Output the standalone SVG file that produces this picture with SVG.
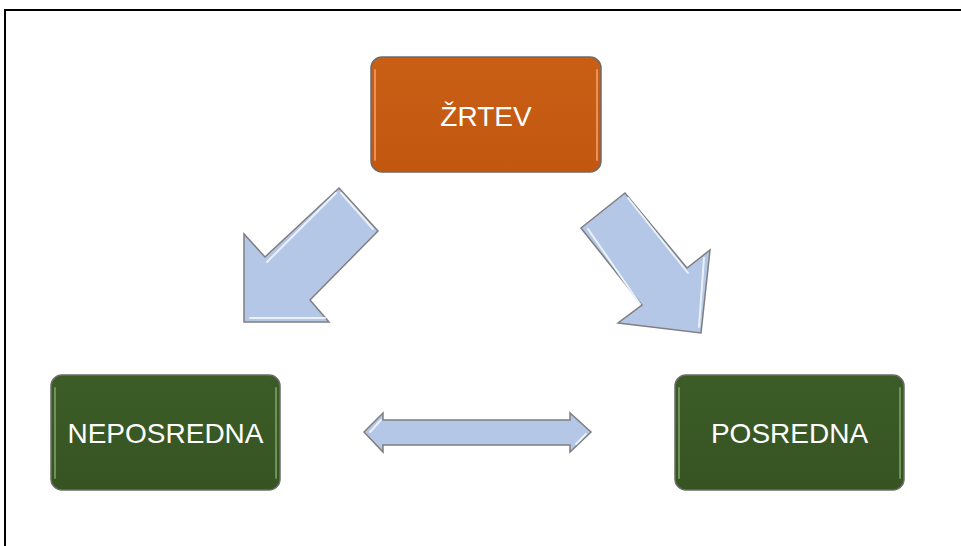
<svg xmlns="http://www.w3.org/2000/svg" width="961" height="546" viewBox="0 0 961 546">
<defs>
<linearGradient id="og" x1="0" y1="0" x2="0" y2="1">
<stop offset="0" stop-color="#C95E15"/><stop offset="1" stop-color="#C25810"/>
</linearGradient>
<linearGradient id="gg" x1="0" y1="0" x2="0" y2="1">
<stop offset="0" stop-color="#3B5C27"/><stop offset="1" stop-color="#365422"/>
</linearGradient>
<style>
.box{stroke:#6b6b6b;stroke-width:1.5}
.hl{fill:none;stroke-width:2;stroke-linecap:round}
.lbl{font-family:"Liberation Sans","Open Sans",Arial,sans-serif;font-size:28px;fill:#ffffff;text-anchor:middle}
.arr{fill:#B4C7E7;stroke:#7F7F7F;stroke-width:1.5;stroke-linejoin:miter}
.ahl{fill:none;stroke:#EAF1FB;stroke-width:2;stroke-linecap:round}
</style>
</defs>
<rect width="961" height="546" fill="#ffffff"/>
<path d="M5,546 V10 H961" fill="none" stroke="#000" stroke-width="2"/>
<g id="connectors">
<g id="arrow-left">
<path class="arr" d="M339,188 L378,231 L310,300 L329,322 L244,322 L244,234 L265,257 Z"/>
<path class="ahl" d="M341,193 L373,229 M267,262 L336,193 M250,318 L325,318"/>
</g>
<g id="arrow-right">
<path class="arr" d="M581,228 L625,193 L687,268 L710,250 L701,333 L618,323 L642,305 Z"/>
<path class="ahl" d="M588,229 L640,304 M628,198 L688,273 M704,258 L699,327"/>
</g>
<g id="arrow-both">
<path class="arr" d="M364,432 L383,413 L383,420 L570,420 L570,413 L591,432 L570,452 L570,445 L383,445 L383,452 Z"/>
<path class="ahl" d="M370,432 L381,420 M576,444 L586,434"/>
</g>
</g>
<g id="node-zrtev">
<rect class="box" x="371" y="57" width="230" height="115" rx="11" fill="url(#og)"/>
<path class="hl" stroke="#E8915A" d="M375,70 V160 M597,70 V160"/>
<text class="lbl" x="486" y="126">ŽRTEV</text>
</g>
<g id="node-neposredna">
<rect class="box" x="51" y="375" width="229" height="115" rx="11" fill="url(#gg)"/>
<path class="hl" stroke="#6E9257" d="M55,388 V478 M276,388 V478"/>
<text class="lbl" x="165.5" y="443">NEPOSREDNA</text>
</g>
<g id="node-posredna">
<rect class="box" x="675" y="375" width="229" height="115" rx="11" fill="url(#gg)"/>
<path class="hl" stroke="#6E9257" d="M679,388 V478 M900,388 V478"/>
<text class="lbl" x="789.5" y="443">POSREDNA</text>
</g>
</svg>
